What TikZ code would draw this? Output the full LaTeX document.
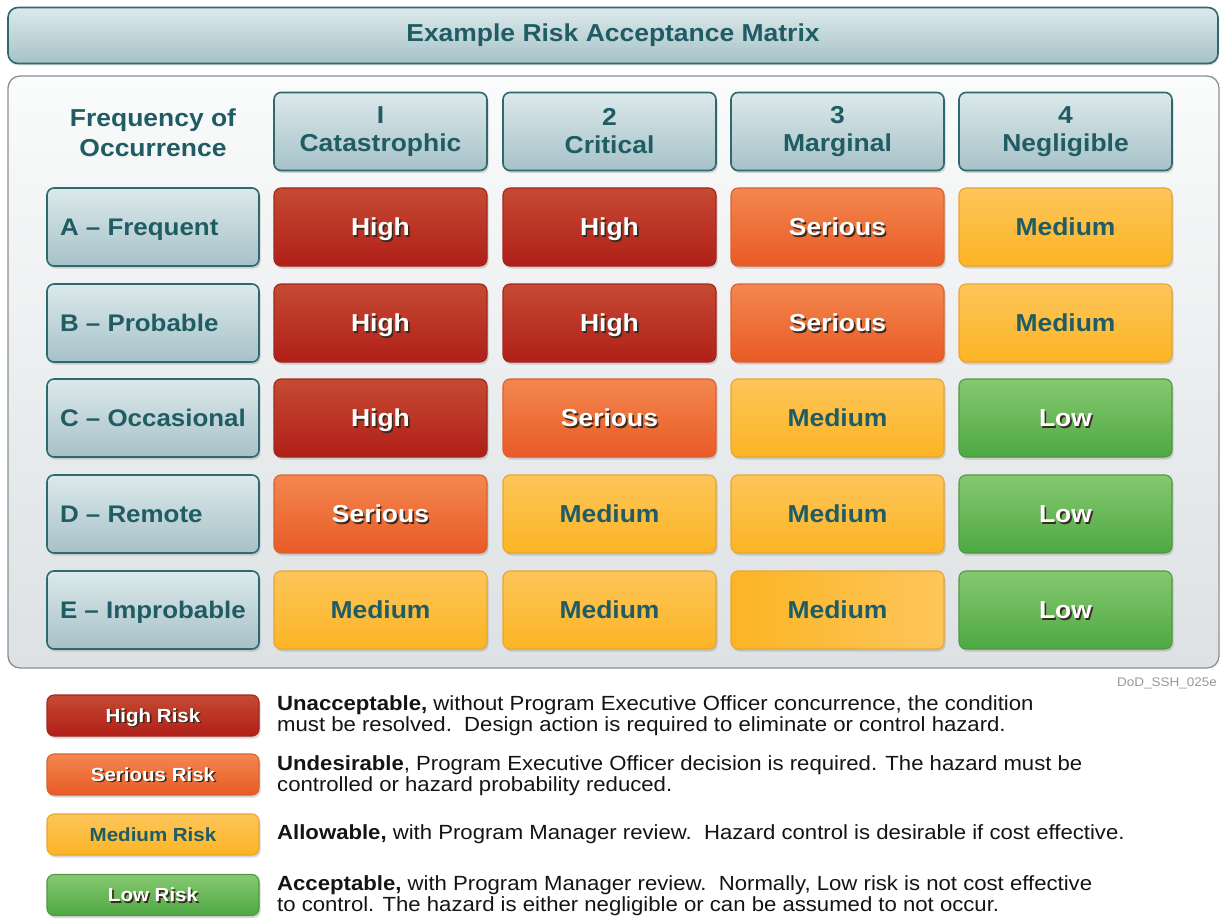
\documentclass[tikz,border=0pt]{standalone}
\usepackage{fontspec}
\setmainfont{Liberation Sans}[FakeStretch=1.08]
\usetikzlibrary{shadows}
\definecolor{tealtxt}{HTML}{1F5C64}
\definecolor{tealbord}{HTML}{2E6870}
\definecolor{hdrtop}{HTML}{DCE9EB}
\definecolor{hdrbot}{HTML}{A6C2C7}
\definecolor{redtop}{HTML}{C64A33}
\definecolor{redbot}{HTML}{B01F18}
\definecolor{redbord}{HTML}{A0291E}
\definecolor{orgtop}{HTML}{F3874F}
\definecolor{orgbot}{HTML}{E95A26}
\definecolor{orgbord}{HTML}{DA6230}
\definecolor{medtop}{HTML}{FDC65A}
\definecolor{medbot}{HTML}{FCB424}
\definecolor{medbord}{HTML}{EAA52E}
\definecolor{lowtop}{HTML}{86C870}
\definecolor{lowbot}{HTML}{4EA843}
\definecolor{lowbord}{HTML}{4E9A40}
\definecolor{paneltop}{HTML}{FAFBFB}
\definecolor{panelbot}{HTML}{DDE1E3}
\definecolor{panelbord}{HTML}{8A9194}
\definecolor{txtshadow}{HTML}{3A2A20}
\newcommand\shd[1]{\rlap{\kern1.6pt\raisebox{-1.6pt}{\textcolor{txtshadow}{#1}}}\textcolor{white}{#1}}
\tikzset{
  box/.style={rounded corners=7pt, line width=1.1pt, minimum width=213pt, minimum height=78pt,
    inner sep=0pt, drop shadow={opacity=0.3, shadow xshift=1.5pt, shadow yshift=-2.5pt},
    font=\bfseries\fontsize{24.5}{28}\selectfont},
  hdr/.style={box, draw=tealbord, line width=1.6pt, top color=hdrtop, bottom color=hdrbot, text=tealtxt, align=center},
  rowlab/.style={hdr, minimum width=212pt, text width=186pt, inner xsep=13pt, align=flush left,
    text height=17.2pt, text depth=0pt, font=\bfseries\fontsize{24}{28}\selectfont},
  cellbox/.style={box, text height=17.5pt, text depth=0pt},
  high/.style={cellbox, draw=redbord, top color=redtop, bottom color=redbot},
  ser/.style={cellbox, draw=orgbord, top color=orgtop, bottom color=orgbot},
  med/.style={cellbox, draw=medbord, top color=medtop, bottom color=medbot, text=tealtxt},
  low/.style={cellbox, draw=lowbord, top color=lowtop, bottom color=lowbot},
  legbox/.style={minimum width=212pt, minimum height=41pt, font=\bfseries\fontsize{19}{22}\selectfont, text height=13.6pt},
  desc/.style={anchor=west, align=left, inner sep=0pt, font=\fontsize{20.5}{21}\selectfont, text=black!92},
}
\begin{document}
\begin{tikzpicture}[x=1pt,y=-1pt]
\useasboundingbox[fill=white] (0,0) rectangle (1225,920);
% title bar
\node[draw=tealbord, line width=1.6pt, rounded corners=10pt, top color=hdrtop, bottom color=hdrbot,
  minimum width=1210pt, minimum height=56pt, text=tealtxt, font=\bfseries\fontsize{24.5}{28}\selectfont,
  drop shadow={opacity=0.25, shadow xshift=1pt, shadow yshift=-2pt}]
  (title) at (613,35.5) {Example Risk Acceptance Matrix};
% panel
\node[draw=panelbord, line width=1.3pt, rounded corners=12pt, top color=paneltop, bottom color=panelbot,
  minimum width=1211pt, minimum height=592pt] (panel) at (613.5,372) {};
% header row
\node[text=tealtxt, align=center, font=\bfseries\fontsize{24.5}{30}\selectfont] (freq) at (153,133) {Frequency of\\Occurrence};
\node[hdr] (h1) at (380.5,131.5) {I\\Catastrophic};
\node[hdr] (h2) at (609.5,131.5) {2\\Critical};
\node[hdr] (h3) at (837.5,131.5) {3\\Marginal};
\node[hdr] (h4) at (1065.5,131.5) {4\\Negligible};
% row labels
\node[rowlab] (ra) at (153,227) {\mbox{A -- Frequent}};
\node[rowlab] (rb) at (153,323) {\mbox{B -- Probable}};
\node[rowlab] (rc) at (153,418) {\mbox{C -- Occasional}};
\node[rowlab] (rd) at (153,514) {\mbox{D -- Remote}};
\node[rowlab] (re) at (153,610) {\mbox{E -- Improbable}};
% row A
\node[high] (a1) at (380.5,227) {\shd{High}};
\node[high] (a2) at (609.5,227) {\shd{High}};
\node[ser]  (a3) at (837.5,227) {\shd{Serious}};
\node[med]  (a4) at (1065.5,227) {Medium};
% row B
\node[high] (b1) at (380.5,323) {\shd{High}};
\node[high] (b2) at (609.5,323) {\shd{High}};
\node[ser]  (b3) at (837.5,323) {\shd{Serious}};
\node[med]  (b4) at (1065.5,323) {Medium};
% row C
\node[high] (c1) at (380.5,418) {\shd{High}};
\node[ser]  (c2) at (609.5,418) {\shd{Serious}};
\node[med]  (c3) at (837.5,418) {Medium};
\node[low]  (c4) at (1065.5,418) {\shd{Low}};
% row D
\node[ser]  (d1) at (380.5,514) {\shd{Serious}};
\node[med]  (d2) at (609.5,514) {Medium};
\node[med]  (d3) at (837.5,514) {Medium};
\node[low]  (d4) at (1065.5,514) {\shd{Low}};
% row E
\node[med]  (e1) at (380.5,610) {Medium};
\node[med]  (e2) at (609.5,610) {Medium};
\node[med, left color=medbot, right color=medtop] (e3) at (837.5,610) {Medium};
\node[low]  (e4) at (1065.5,610) {\shd{Low}};
% id tag
\node[anchor=east, inner sep=0pt, text=black!40, font=\fontsize{12.5}{14}\selectfont] (tag) at (1217,683) {DoD\_SSH\_025e};
% legend
\node[high, legbox] (lh) at (153,715.5) {\shd{High Risk}};
\node[ser, legbox]  (ls) at (153,774.5) {\shd{Serious Risk}};
\node[med, legbox]  (lm) at (153,834.5) {Medium Risk};
\node[low, legbox]  (ll) at (153,895) {\shd{Low Risk}};
\node[desc] (dh) at (277,715.5) {\textbf{Unacceptable,} without Program Executive Officer concurrence, the condition\\must be resolved.\ \ Design action is required to eliminate or control hazard.};
\node[desc] (ds) at (277,776) {\textbf{Undesirable}, Program Executive Officer decision is required. The hazard must be\\controlled or hazard probability reduced.};
\node[desc] (dm) at (277,834.5) {\textbf{Allowable,} with Program Manager review.\ \ Hazard control is desirable if cost effective.};
\node[desc] (dl) at (277,896) {\textbf{Acceptable,} with Program Manager review.\ \ Normally, Low risk is not cost effective\\to control. The hazard is either negligible or can be assumed to not occur.};
\end{tikzpicture}
\end{document}
